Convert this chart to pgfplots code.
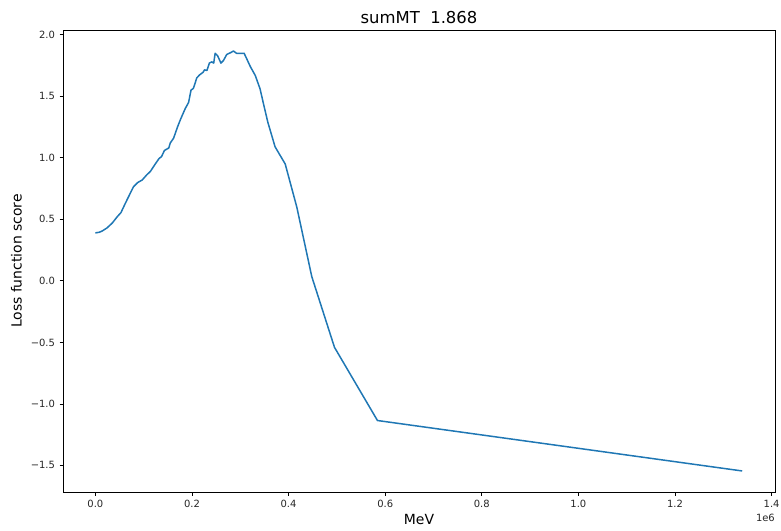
\documentclass[border=0pt]{standalone}
\usepackage{fontspec}
\setmainfont{DejaVu Sans}
\usepackage{pgfplots}
\pgfplotsset{compat=1.18}
\usepackage{pgfplotstable}
\definecolor{mplblue}{HTML}{1F77B4}

% loss function score against summed MT (MeV)
\pgfplotstableread{
x y
0 0.390
8000 0.395
14000 0.405
24000 0.430
35000 0.470
45000 0.520
53000 0.555
62000 0.630
72000 0.710
79000 0.765
88000 0.800
97000 0.820
106000 0.860
114000 0.890
124000 0.950
132000 0.995
137000 1.010
143000 1.060
152000 1.080
155000 1.120
162000 1.160
170000 1.250
176000 1.310
186000 1.400
193000 1.450
198000 1.550
203000 1.565
210000 1.650
216000 1.675
223000 1.695
226000 1.715
231000 1.710
236000 1.770
241000 1.780
245000 1.770
248000 1.850
253000 1.830
260000 1.770
265000 1.790
272000 1.840
280000 1.855
286000 1.868
292000 1.850
308000 1.850
321000 1.740
331000 1.670
341000 1.560
348000 1.440
357000 1.290
372000 1.090
393000 0.950
417000 0.600
448000 0.035
495000 -0.540
584000 -1.135
1339000 -1.545
}\scoredata

\begin{document}
\begin{tikzpicture}
\begin{axis}[
  name=main,
  scale only axis,
  width=712bp, height=462bp,
  xmin=-67000, xmax=1407000,
  ymin=-1.716, ymax=2.039,
  scaled x ticks=false,
  xtick={0,200000,400000,600000,800000,1000000,1200000,1400000},
  xticklabels={0.0,0.2,0.4,0.6,0.8,1.0,1.2,1.4},
  ytick={-1.5,-1,-0.5,0,0.5,1,1.5,2},
  yticklabels={−1.5,−1.0,−0.5,0.0,0.5,1.0,1.5,2.0},
  tick pos=left,
  tick align=outside,
  major tick length=3.5bp,
  every tick/.style={black, line width=0.8bp},
  axis line style={black, line width=0.8bp},
  tick label style={font=\fontsize{10}{12}\selectfont, text=black!85},
  xticklabel style={yshift=-1bp},
  yticklabel style={xshift=-1bp},
  xlabel={MeV},
  ylabel={Loss function score},
  label style={font=\fontsize{14}{16}\selectfont},
  xlabel style={yshift=0bp},
  ylabel style={yshift=2bp},
  title={sumMT\ \ 1.868},
  title style={font=\fontsize{16.5}{19}\selectfont, yshift=-3bp},
  clip=false,
]
\addplot[mplblue, line width=1.5bp, line join=round] table[x=x, y=y] {\scoredata};
\end{axis}
\node[anchor=north east, font=\fontsize{10}{12}\selectfont, text=black!85, inner sep=0pt]
  at ([yshift=-22bp]main.south east) {1e6};
\pgfresetboundingbox
\path ([xshift=-63bp, yshift=-39bp]main.south west) rectangle ([xshift=6bp, yshift=30bp]main.north east);
\end{tikzpicture}
\end{document}
